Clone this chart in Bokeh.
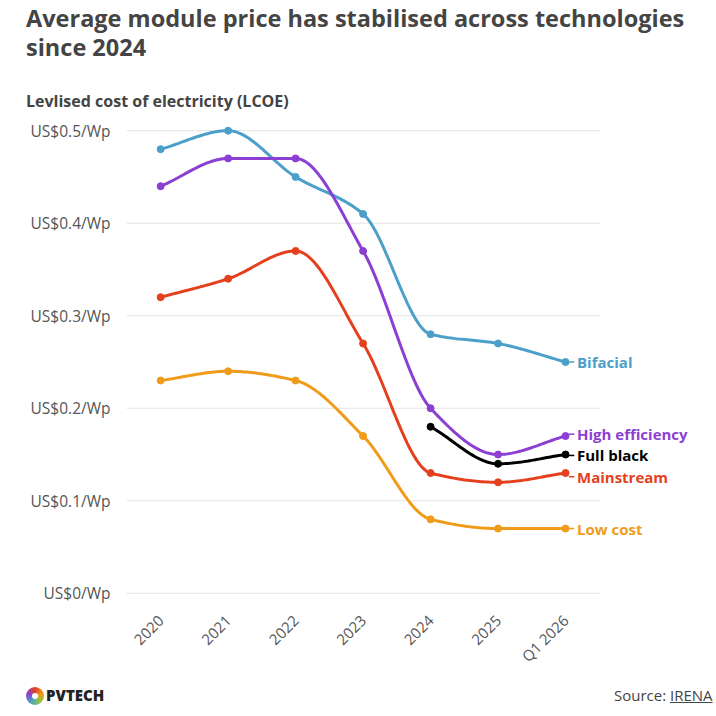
import numpy as np
from bokeh.plotting import figure
from bokeh.models import Div, FixedTicker, Range1d
from bokeh.layouts import column
from bokeh.embed import file_html
from bokeh.resources import INLINE
from bokeh.core.properties import value

categories = ["2020", "2021", "2022", "2023", "2024", "2025", "Q1 2026"]
bifacial = [0.48, 0.50, 0.45, 0.41, 0.28, 0.27, 0.25]
high_eff = [0.44, 0.47, 0.47, 0.37, 0.20, 0.15, 0.17]
mainstream = [0.32, 0.34, 0.37, 0.27, 0.13, 0.12, 0.13]
low_cost = [0.23, 0.24, 0.23, 0.17, 0.08, 0.07, 0.07]
full_black_cats = ["2024", "2025", "Q1 2026"]
full_black = [0.18, 0.14, 0.15]
y_ticks = [0, 0.1, 0.2, 0.3, 0.4, 0.5]
y_labels = ["US$0/Wp", "US$0.1/Wp", "US$0.2/Wp", "US$0.3/Wp", "US$0.4/Wp", "US$0.5/Wp"]

series = [
    ("Bifacial", categories, bifacial, "#4b9fc9", 0.25),
    ("High efficiency", categories, high_eff, "#8c3fd3", 0.172),
    ("Full black", full_black_cats, full_black, "#000000", 0.149),
    ("Mainstream", categories, mainstream, "#e5401e", 0.126),
    ("Low cost", categories, low_cost, "#f09c1a", 0.07),
]

def monotone(xs, ys, n=30):
    xs = np.asarray(xs, float); ys = np.asarray(ys, float)
    h = np.diff(xs); d = np.diff(ys) / h
    m = np.zeros(len(xs))
    m[0], m[-1] = d[0], d[-1]
    for i in range(1, len(xs) - 1):
        if d[i-1] * d[i] <= 0:
            m[i] = 0
        else:
            m[i] = 3 * (h[i-1] + h[i]) / ((2*h[i] + h[i-1]) / d[i-1] + (h[i] + 2*h[i-1]) / d[i])
    ox, oy = [], []
    for i in range(len(xs) - 1):
        t = np.linspace(0, 1, n)
        h00 = 2*t**3 - 3*t**2 + 1; h10 = t**3 - 2*t**2 + t
        h01 = -2*t**3 + 3*t**2; h11 = t**3 - t**2
        ox += list(xs[i] + t*h[i]); oy += list(h00*ys[i] + h10*h[i]*m[i] + h01*ys[i+1] + h11*h[i]*m[i+1])
    return ox, oy

title = Div(text=(
    "<div style='font-family:\"Open Sans\";font-weight:700;color:#444;font-size:23.5px;line-height:29px;margin:4px 0 0 26px;white-space:nowrap'>"
    "Average module price has stabilised across technologies<br>since 2024</div>"
    "<div style='font-family:\"Open Sans\";font-weight:700;color:#444;font-size:16px;line-height:20px;margin:29px 0 0 26px'>"
    "Levlised cost of electricity (LCOE)</div>"), width=700, height=110, margin=0)

p = figure(width=700, height=565, output_backend="svg", toolbar_location=None,
           x_range=Range1d(-0.506, 8.0), y_range=Range1d(-0.011, 0.511),
           min_border_left=126, min_border_right=0, min_border_top=10, min_border_bottom=55,
           margin=0)
p.outline_line_color = None
p.grid.grid_line_color = None
p.xaxis.ticker = FixedTicker(ticks=list(range(len(categories))))
p.xaxis.major_label_overrides = {i: c for i, c in enumerate(categories)}
p.xaxis.major_label_orientation = np.pi / 4
p.yaxis.ticker = FixedTicker(ticks=y_ticks)
p.yaxis.major_label_overrides = {t: l for t, l in zip(y_ticks, y_labels)}
for ax in (p.xaxis, p.yaxis):
    ax.axis_line_color = None
    ax.major_tick_line_color = None
    ax.minor_tick_line_color = None
    ax.major_label_text_font = "Open Sans"
    ax.major_label_text_font_size = "15px"
    ax.major_label_text_color = "#555"
p.yaxis.major_label_text_font_size = "15.5px"
p.yaxis.major_label_standoff = 10
p.xaxis.major_label_standoff = 8

p.segment(x0=[-0.506]*len(y_ticks), x1=[6.52]*len(y_ticks), y0=y_ticks, y1=y_ticks,
          line_color="#e4e4e4", line_width=1)

idx = {c: i for i, c in enumerate(categories)}
for name, cats, vals, col, ly in series:
    xs = [idx[c] for c in cats]
    sx, sy = monotone(xs, vals)
    p.line(sx, sy, line_color=col, line_width=3)
    p.scatter(xs, vals, size=7, fill_color=col, line_color=col)
    p.segment(x0=[6.05], x1=[6.13], y0=[ly], y1=[ly], line_color=col, line_width=1.5)
    p.text(x=[6.17], y=[ly], text=[name], text_color=col, text_font=value("Open Sans"),
           text_font_style="bold", text_font_size="15px", text_baseline="middle")

footer = Div(text=(
    "<div style='position:relative;width:700px;height:40px;font-family:\"Open Sans\"'>"
    "<div style='position:absolute;left:26px;top:12px;width:18px;height:18px;border-radius:50%;"
    "background:conic-gradient(#e5401e,#f09c1a,#8bc34a,#4b9fc9,#8c3fd3,#e5401e)'></div>"
    "<div style='position:absolute;left:32px;top:18px;width:6px;height:6px;border-radius:50%;background:#fff'></div>"
    "<div style='position:absolute;left:46px;top:10px;font-weight:800;font-size:15px;color:#222'>PVTECH</div>"
    "<div style='position:absolute;left:614px;top:10px;font-size:15px;color:#444;white-space:nowrap'>Source: <u>IRENA</u></div>"
    "</div>"), width=700, height=40, margin=0)

layout = column(title, p, footer, spacing=0)
open("out.html", "w").write(file_html(layout, INLINE))
